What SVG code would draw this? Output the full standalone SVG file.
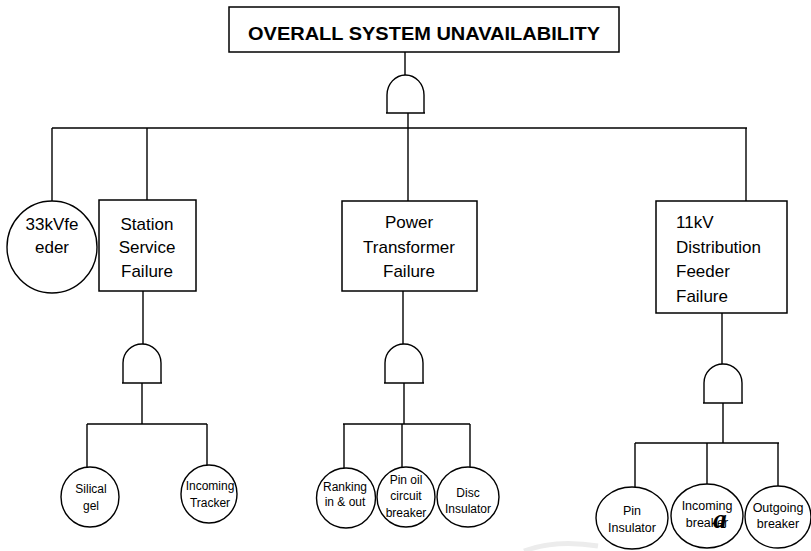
<svg xmlns="http://www.w3.org/2000/svg" width="811" height="551" viewBox="0 0 811 551">
  <style>
    .ln { stroke: #000; stroke-width: 1.4; fill: none; }
    .box { fill: #fff; stroke: #000; stroke-width: 1.5; }
    .ev { fill: #fff; stroke: #000; stroke-width: 1.4; }
    .gate { fill: #fff; stroke: #000; stroke-width: 1.4; }
    .t17 { font-family: "Liberation Sans", Arial, sans-serif; font-size: 17px; fill: #000; }
    .t12 { font-family: "Liberation Sans", Arial, sans-serif; font-size: 12px; fill: #000; }
    .t13 { font-family: "Liberation Sans", Arial, sans-serif; font-size: 12.5px; fill: #000; }
    .c { text-anchor: middle; }
  </style>

  <rect width="811" height="551" fill="#fff"/>

  <!-- faint smudge near the bottom edge -->
  <path d="M 524 551 Q 556 539 598 546" stroke="#ececec" stroke-width="5" fill="none"/>

  <g id="connectors">
    <line class="ln" x1="405" y1="52" x2="405" y2="75"/>
    <line class="ln" x1="408" y1="113" x2="408" y2="201"/>
    <line class="ln" x1="52" y1="128" x2="747" y2="128"/>
    <line class="ln" x1="52" y1="128" x2="52" y2="202"/>
    <line class="ln" x1="147" y1="128" x2="147" y2="200"/>
    <line class="ln" x1="746" y1="128" x2="746" y2="201"/>

    <line class="ln" x1="143" y1="291" x2="143" y2="344"/>
    <line class="ln" x1="142" y1="383" x2="142" y2="424"/>
    <line class="ln" x1="87" y1="424" x2="207" y2="424"/>
    <line class="ln" x1="87" y1="424" x2="87" y2="467"/>
    <line class="ln" x1="207" y1="424" x2="207" y2="465"/>

    <line class="ln" x1="403" y1="291" x2="403" y2="344"/>
    <line class="ln" x1="404" y1="383" x2="404" y2="424"/>
    <line class="ln" x1="343" y1="424" x2="470" y2="424"/>
    <line class="ln" x1="344" y1="424" x2="344" y2="468"/>
    <line class="ln" x1="402" y1="424" x2="402" y2="467"/>
    <line class="ln" x1="470" y1="424" x2="470" y2="467"/>

    <line class="ln" x1="722" y1="313" x2="722" y2="364"/>
    <line class="ln" x1="723" y1="403" x2="723" y2="443"/>
    <line class="ln" x1="635" y1="443" x2="779" y2="443"/>
    <line class="ln" x1="635" y1="443" x2="635" y2="487"/>
    <line class="ln" x1="707" y1="443" x2="707" y2="484"/>
    <line class="ln" x1="778" y1="443" x2="778" y2="486"/>
  </g>

  <g id="top">
    <rect class="box" x="229" y="7" width="390" height="45"/>
    <text x="424" y="40" class="c" font-family="'Liberation Sans', Arial, sans-serif" font-size="19" font-weight="bold" textLength="352" lengthAdjust="spacingAndGlyphs">OVERALL SYSTEM UNAVAILABILITY</text>
  </g>

  <g id="gate-top">
    <path class="gate" d="M 387 113 L 387 95 A 18.5 20 0 0 1 424 95 L 424 113"/>
    <line class="ln" x1="386" y1="113" x2="425" y2="113"/>
  </g>

  <g id="feeder-33kv">
    <ellipse class="ev" cx="52" cy="247" rx="45" ry="46"/>
    <text class="t17 c" x="52" y="230">33kVfe</text>
    <text class="t17 c" x="52" y="253">eder</text>
  </g>

  <g id="station-service">
    <rect class="box" x="99" y="200" width="97" height="91"/>
    <text class="t17 c" x="147" y="230">Station</text>
    <text class="t17 c" x="147" y="253">Service</text>
    <text class="t17 c" x="147" y="277">Failure</text>
  </g>

  <g id="power-transformer">
    <rect class="box" x="342" y="201" width="135" height="90"/>
    <text class="t17 c" x="409" y="228">Power</text>
    <text class="t17 c" x="409" y="253">Transformer</text>
    <text class="t17 c" x="409" y="277">Failure</text>
  </g>

  <g id="distribution-11kv">
    <rect class="box" x="656" y="201" width="131" height="112"/>
    <text class="t17" x="676" y="228">11kV</text>
    <text class="t17" x="676" y="253">Distribution</text>
    <text class="t17" x="676" y="277">Feeder</text>
    <text class="t17" x="676" y="302">Failure</text>
  </g>

  <g id="gate-station">
    <path class="gate" d="M 123 383 L 123 363 A 19 19 0 0 1 161 363 L 161 383"/>
    <line class="ln" x1="122" y1="383" x2="162" y2="383"/>
  </g>
  <g id="gate-power">
    <path class="gate" d="M 385 383 L 385 363 A 19 19 0 0 1 423 363 L 423 383"/>
    <line class="ln" x1="384" y1="383" x2="424" y2="383"/>
  </g>
  <g id="gate-distribution">
    <path class="gate" d="M 704 403 L 704 383 A 19 19 0 0 1 742 383 L 742 403"/>
    <line class="ln" x1="703" y1="403" x2="743" y2="403"/>
  </g>

  <g id="silical-gel">
    <ellipse class="ev" cx="90" cy="497" rx="29" ry="30"/>
    <text class="t12 c" x="91" y="493">Silical</text>
    <text class="t12 c" x="91" y="510">gel</text>
  </g>
  <g id="incoming-tracker">
    <ellipse class="ev" cx="209" cy="494" rx="28" ry="29"/>
    <text class="t12 c" x="210" y="490">Incoming</text>
    <text class="t12 c" x="210" y="507">Tracker</text>
  </g>

  <g id="ranking">
    <ellipse class="ev" cx="346" cy="498" rx="29.5" ry="30"/>
    <text class="t12 c" x="345" y="491">Ranking</text>
    <text class="t12 c" x="345" y="506">in &amp; out</text>
  </g>
  <g id="pin-oil-cb">
    <ellipse class="ev" cx="406" cy="497" rx="29" ry="30"/>
    <text class="t12 c" x="406" y="484">Pin oil</text>
    <text class="t12 c" x="406" y="500">circuit</text>
    <text class="t12 c" x="406" y="517">breaker</text>
  </g>
  <g id="disc-insulator">
    <ellipse class="ev" cx="468" cy="497" rx="31" ry="30"/>
    <text class="t12 c" x="468" y="497">Disc</text>
    <text class="t12 c" x="468" y="513">Insulator</text>
  </g>

  <g id="pin-insulator">
    <ellipse class="ev" cx="632" cy="518" rx="36" ry="31"/>
    <text class="t13 c" x="632" y="515">Pin</text>
    <text class="t13 c" x="632" y="532">Insulator</text>
  </g>
  <g id="incoming-breaker">
    <ellipse class="ev" cx="707" cy="516" rx="36" ry="32"/>
    <text class="t13 c" x="707" y="510">Incoming</text>
    <text class="t13 c" x="707" y="527">breaker</text>
    <text x="720" y="528" text-anchor="middle" font-family="'Liberation Serif', 'Times New Roman', serif" font-size="27" font-style="italic" font-weight="bold">a</text>
  </g>
  <g id="outgoing-breaker">
    <ellipse class="ev" cx="778" cy="517" rx="33" ry="31"/>
    <text class="t13 c" x="778" y="512">Outgoing</text>
    <text class="t13 c" x="778" y="528">breaker</text>
  </g>
</svg>
